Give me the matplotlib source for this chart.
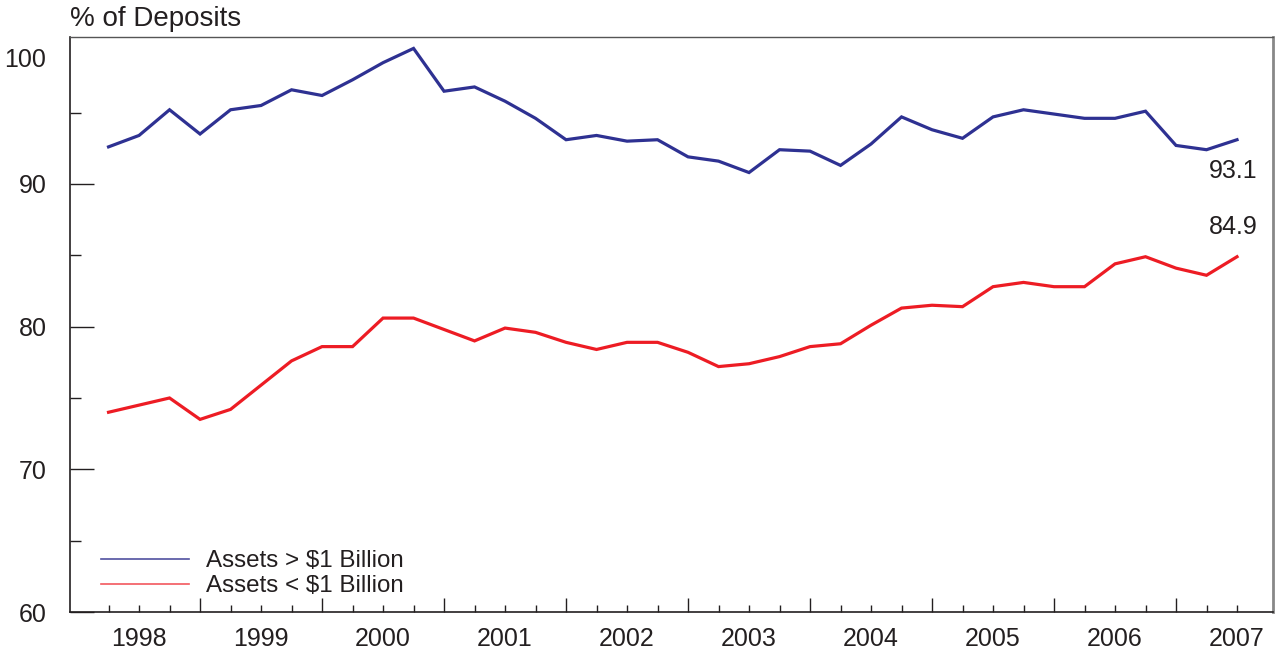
import numpy as np
import matplotlib
matplotlib.use("Agg")
import matplotlib.pyplot as plt
from matplotlib.lines import Line2D
from matplotlib.transforms import ScaledTranslation

plt.rcParams['font.family'] = ['Liberation Sans', 'DejaVu Sans']

# quarterly observations, 1998 Q2 .. 2007 Q3
quarters = ['1998Q2', '1998Q3', '1998Q4',
            '1999Q1', '1999Q2', '1999Q3', '1999Q4',
            '2000Q1', '2000Q2', '2000Q3', '2000Q4',
            '2001Q1', '2001Q2', '2001Q3', '2001Q4',
            '2002Q1', '2002Q2', '2002Q3', '2002Q4',
            '2003Q1', '2003Q2', '2003Q3', '2003Q4',
            '2004Q1', '2004Q2', '2004Q3', '2004Q4',
            '2005Q1', '2005Q2', '2005Q3', '2005Q4',
            '2006Q1', '2006Q2', '2006Q3', '2006Q4',
            '2007Q1', '2007Q2', '2007Q3']

# % of deposits
big_banks = [92.6, 93.4, 95.2, 93.5, 95.2, 95.5, 96.6, 96.2, 97.3, 98.5,
             99.5, 96.5, 96.8, 95.8, 94.6, 93.1, 93.4, 93.0, 93.1, 91.9,
             91.6, 90.8, 92.4, 92.3, 91.3, 92.8, 94.7, 93.8, 93.2, 94.7,
             95.2, 94.9, 94.6, 94.6, 95.1, 92.7, 92.4, 93.1]
small_banks = [74.0, 74.5, 75.0, 73.5, 74.2, 75.9, 77.6, 78.6, 78.6, 80.6,
               80.6, 79.8, 79.0, 79.9, 79.6, 78.9, 78.4, 78.9, 78.9, 78.2,
               77.2, 77.4, 77.9, 78.6, 78.8, 80.1, 81.3, 81.5, 81.4, 82.8,
               83.1, 82.8, 82.8, 84.4, 84.9, 84.1, 83.6, 84.9]

year_labels = ['1998', '1999', '2000', '2001', '2002', '2003', '2004', '2005', '2006', '2007']
y_labels = ['60', '70', '80', '90', '100']

# quarter string -> fractional year (Q1 sits on the year line)
x = np.array([int(q[:4]) + (int(q[-1]) - 1) * 0.25 for q in quarters])

blue = '#2e3192'
red = '#ed1c24'
txt = '#231f20'

fig = plt.figure(figsize=(12.75, 6.56), dpi=100)
ax = fig.add_axes([70 / 1275, 1 - 612 / 656, 1203 / 1275, 575 / 656])

ax.plot(x, big_banks, color=blue, lw=2.3, solid_joinstyle='miter')
ax.plot(x, small_banks, color=red, lw=2.3, solid_joinstyle='miter')

ax.set_xlim(1997.934, 2007.795)
ax.set_ylim(60, 100.3)

# x axis: long ticks on year lines, short ticks on quarters, labels mid-year
years = [int(y) for y in year_labels]
ax.set_xticks(years[1:], [''] * (len(years) - 1))
ax.set_xticks(x, [q[:4] if q.endswith('Q3') else '' for q in quarters], minor=True)
ax.tick_params(axis='x', which='major', direction='in', length=10, width=1, colors=txt)
ax.tick_params(axis='x', which='minor', direction='in', length=5, width=1,
               colors=txt, labelsize=18, pad=11)

# y axis
yt = [int(v) for v in y_labels]
ax.set_yticks(yt, y_labels)
ax.set_yticks([65, 75, 85, 95], minor=True)
ax.tick_params(axis='y', which='major', direction='in', length=17, width=1,
               colors=txt, labelsize=18, pad=17)
ax.tick_params(axis='y', which='minor', direction='in', length=8, width=1, colors=txt)
# top label has no tick mark and sits a little lower
top_tick = ax.yaxis.get_major_ticks()[-1]
top_tick.tick1line.set_visible(False)
lab = top_tick.label1
lab.set_transform(lab.get_transform() + ScaledTranslation(0, -16 / 100, fig.dpi_scale_trans))

for s in ['left', 'bottom']:
    ax.spines[s].set_color(txt)
    ax.spines[s].set_linewidth(1.2)
ax.spines['top'].set_color('#555555')
ax.spines['top'].set_linewidth(1.0)
ax.spines['right'].set_color('#888888')
ax.spines['right'].set_linewidth(2.0)

ax.text(0, 1.008, '% of Deposits', transform=ax.transAxes, ha='left', va='bottom',
        fontsize=20, color=txt)

ax.annotate(f'{big_banks[-1]:.1f}', (x[-1], big_banks[-1]), xytext=(-3, -14),
            textcoords='offset points', ha='center', va='top', fontsize=18, color=txt)
ax.annotate(f'{small_banks[-1]:.1f}', (x[-1], small_banks[-1]), xytext=(-3, 13),
            textcoords='offset points', ha='center', va='bottom', fontsize=18, color=txt)

handles = [Line2D([], [], color='#50509f', lw=1.2),
           Line2D([], [], color='#f2575d', lw=1.2)]
ax.legend(handles, ['Assets > $1 Billion', 'Assets < $1 Billion'],
          loc='lower left', bbox_to_anchor=(0.026, 0.026), frameon=False,
          fontsize=17.4, handlelength=3.65, handletextpad=0.7, labelspacing=0.12,
          borderpad=0, borderaxespad=0, labelcolor=txt)

fig.savefig('out.png', dpi=100)
